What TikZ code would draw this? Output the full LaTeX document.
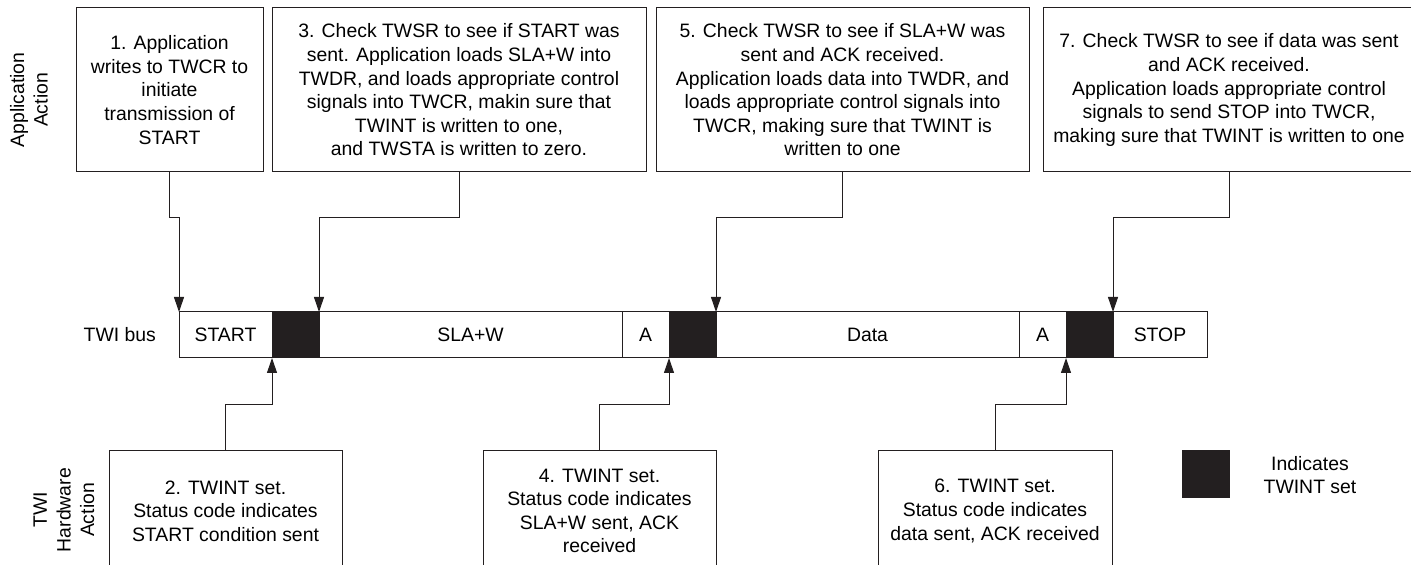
\documentclass[tikz,border=0pt]{standalone}
\usepackage{fontspec}
\setmainfont{Liberation Sans}
\usetikzlibrary{arrows.meta, positioning}
\definecolor{twink}{HTML}{231F20}

\begin{document}
\begin{tikzpicture}[x=.5pt, y=-.5pt, font=\fontsize{9.7}{11.8}\selectfont,
          ab/.style={draw=twink, line width=.5pt, align=center, minimum height=82pt, inner sep=0pt},
          hb/.style={draw=twink, line width=.5pt, align=center, minimum width=116.5pt, minimum height=60pt, inner sep=0pt},
          seg/.style={draw=twink, line width=.5pt, minimum height=23pt, inner sep=0pt, outer sep=0pt},
          tw/.style={seg, fill=twink, minimum width=23.5pt},
          ar/.style={-{Triangle[length=7.5pt, width=5pt]}, twink, line width=.5pt}]
          \useasboundingbox (0,0) rectangle (1411,565);
          \clip (0,0) rectangle (1411,565);
          % side labels
          \node[rotate=90, align=center] (applbl) at (29,100) {Application\\Action};
          \node[rotate=90, align=center] (hwlbl) at (64,510) {TWI\\Hardware\\Action};
          % application steps
          \node[ab, minimum width=93.5pt] (b1) at (169.5,90) {1. Application\\writes to TWCR to\\initiate\\transmission of\\START};
          \node[ab, minimum width=187pt] (b3) at (459,90) {3. Check TWSR to see if START was\\sent. Application loads SLA+W into\\TWDR, and loads appropriate control\\signals into TWCR, makin sure that\\TWINT is written to one,\\and TWSTA is written to zero.};
          \node[ab, minimum width=186.5pt] (b5) at (842.5,90) {5. Check TWSR to see if SLA+W was\\sent and ACK received.\\Application loads data into TWDR, and\\loads appropriate control signals into\\TWCR, making sure that TWINT is\\written to one};
          \node[ab, minimum width=186pt] (b7) at (1229,90) {7. Check TWSR to see if data was sent\\and ACK received.\\Application loads appropriate control\\signals to send STOP into TWCR,\\making sure that TWINT is written to one};
          % bus
          \node[anchor=east] (buslbl) at (163,335) {TWI bus};
          \node[seg, minimum width=46.5pt, anchor=north west] (start) at (179,312) {START};
          \node[tw, right=0pt of start] (k1) {};
          \node[seg, minimum width=151.5pt, right=0pt of k1] (slaw) {SLA+W};
          \node[seg, minimum width=23.5pt, right=0pt of slaw] (a1) {A};
          \node[tw, right=0pt of a1] (k2) {};
          \node[seg, minimum width=151.5pt, right=0pt of k2] (data) {Data};
          \node[seg, minimum width=23.5pt, right=0pt of data] (a2) {A};
          \node[tw, right=0pt of a2] (k3) {};
          \node[seg, minimum width=47pt, right=0pt of k3] (stop) {STOP};
          % hardware steps
          \node[hb] (b2) at (225.5,511) {2. TWINT set.\\Status code indicates\\START condition sent};
          \node[hb] (b4) at (599.5,511) {4. TWINT set.\\Status code indicates\\SLA+W sent, ACK\\received};
          \node[hb, minimum width=117pt] (b6) at (995,511) {6. TWINT set.\\Status code indicates\\data sent, ACK received};
          % key
          \node[tw, minimum height=23.5pt] (key) at (1205.5,474.5) {};
          \node[align=center] (keylbl) at (1310,475) {Indicates\\TWINT set};
          % connectors
          \coordinate (hi) at (0,218);
          \coordinate (lo) at (0,405);
          \foreach \s/\t in {b1/start.north west, b3/slaw.north west, b5/data.north west, b7/stop.north west}
            \draw[ar] (\s.south) -- (\s.south |- hi) -| (\t);
          \foreach \s/\t in {b2/start.south east, b4/a1.south east, b6/a2.south east}
            \draw[ar] (\s.north) -- (\s.north |- lo) -| (\t);
        \end{tikzpicture}
\end{document}
